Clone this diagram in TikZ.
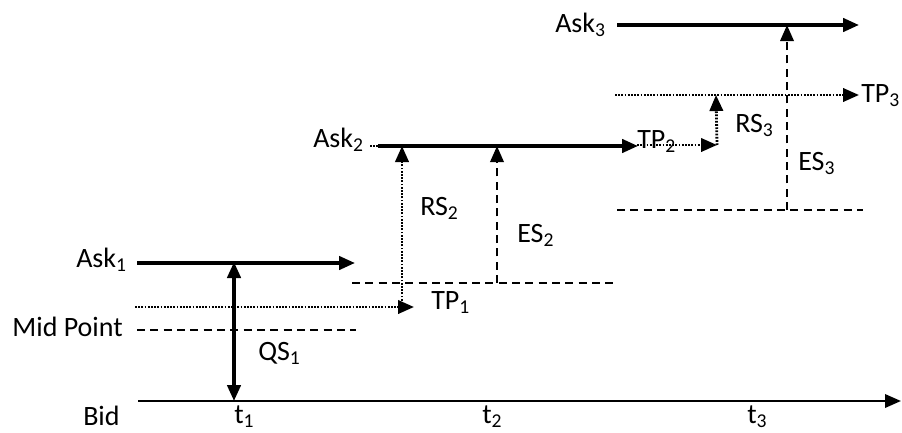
\documentclass[tikz,border=0pt]{standalone}
\usepackage{fontspec}
\setmainfont{Carlito}
\usetikzlibrary{arrows.meta}
\begin{document}
\begin{tikzpicture}[x=0.75pt,y=-0.75pt,
  lbl/.style={inner sep=0pt,font=\fontsize{21}{24}\selectfont},
  lw/.style={lbl,anchor=base west},
  le/.style={lbl,anchor=base east},
  tip/.style={-{Triangle[length=12pt,width=10pt]}},
  solidthick/.style={line width=2.6pt},
  axisline/.style={line width=1.8pt},
  dashline/.style={line width=1.8pt,dash pattern=on 6pt off 4pt},
  dotline/.style={line width=2.1pt,dash pattern=on 1.3pt off 1.1pt}]
\useasboundingbox (0,0) rectangle (902,432);
% coordinates
\coordinate (bidS) at (138,401); \coordinate (bidE) at (901,401);
\coordinate (a1S) at (137,263); \coordinate (a1E) at (355,263);
\coordinate (qsT) at (234,262); \coordinate (qsB) at (234,401);
\coordinate (tp1S) at (135,307); \coordinate (tp1E) at (414,307);
\coordinate (midS) at (137,330); \coordinate (midE) at (356,330);
\coordinate (l2S) at (352,283); \coordinate (l2E) at (615,283);
\coordinate (rs2B) at (402,307); \coordinate (rs2T) at (402,146);
\coordinate (es2B) at (497,283); \coordinate (es2T) at (497,146);
\coordinate (a2D) at (370,146); \coordinate (a2S) at (378,146); \coordinate (a2E) at (638,146);
\coordinate (tp2S) at (637,145); \coordinate (tp2E) at (717,145);
\coordinate (rs3T) at (716,95);
\coordinate (tp3S) at (615,95); \coordinate (tp3E) at (859,95);
\coordinate (a3S) at (617,25); \coordinate (a3E) at (859,25);
\coordinate (es3B) at (787,210); \coordinate (es3T) at (787,25);
\coordinate (l3S) at (617,210); \coordinate (l3E) at (863,210);
% lines
\draw[axisline,tip] (bidS) -- (bidE);
\draw[solidthick,tip] (a1S) -- (a1E);
\draw[solidthick,{Triangle[length=12pt,width=10pt]}-{Triangle[length=12pt,width=10pt]}] (qsT) -- (qsB);
\draw[dotline,tip] (tp1S) -- (tp1E);
\draw[dashline] (midS) -- (midE);
\draw[dashline] (l2S) -- (l2E);
\draw[dotline,tip] (rs2B) -- (rs2T);
\draw[dashline,tip] (es2B) -- (es2T);
\draw[dotline] (a2D) -- (a2S);
\draw[solidthick,tip] (a2S) -- (a2E);
\draw[dotline,tip] (tp2S) -- (tp2E);
\draw[dotline,tip] (tp2E) -- (rs3T);
\draw[dotline,tip] (tp3S) -- (tp3E);
\draw[solidthick,tip] (a3S) -- (a3E);
\draw[dashline,tip] (es3B) -- (es3T);
\draw[dashline] (l3S) -- (l3E);
% labels
\node[le] (ask1) at (127,267) {Ask\textsubscript{1}};
\node[le] (mid) at (123,336) {Mid Point};
\node[lw] (qs1) at (258,360) {QS\textsubscript{1}};
\node[lw] (bid) at (83,425) {Bid};
\node[lw] (t1) at (234,423) {t\textsubscript{1}};
\node[lw] (t2) at (482,423) {t\textsubscript{2}};
\node[lw] (t3) at (747,423) {t\textsubscript{3}};
\node[lw] (tp1) at (431,309) {TP\textsubscript{1}};
\node[lw] (rs2) at (420,215) {RS\textsubscript{2}};
\node[lw] (es2) at (517,242) {ES\textsubscript{2}};
\node[lw] (ask2) at (313,147) {Ask\textsubscript{2}};
\node[lw] (tp2) at (637,148) {TP\textsubscript{2}};
\node[lw] (rs3) at (735,132) {RS\textsubscript{3}};
\node[lw] (es3) at (798,170) {ES\textsubscript{3}};
\node[lw] (tp3) at (861,102) {TP\textsubscript{3}};
\node[lw] (ask3) at (555,32) {Ask\textsubscript{3}};
\end{tikzpicture}
\end{document}
